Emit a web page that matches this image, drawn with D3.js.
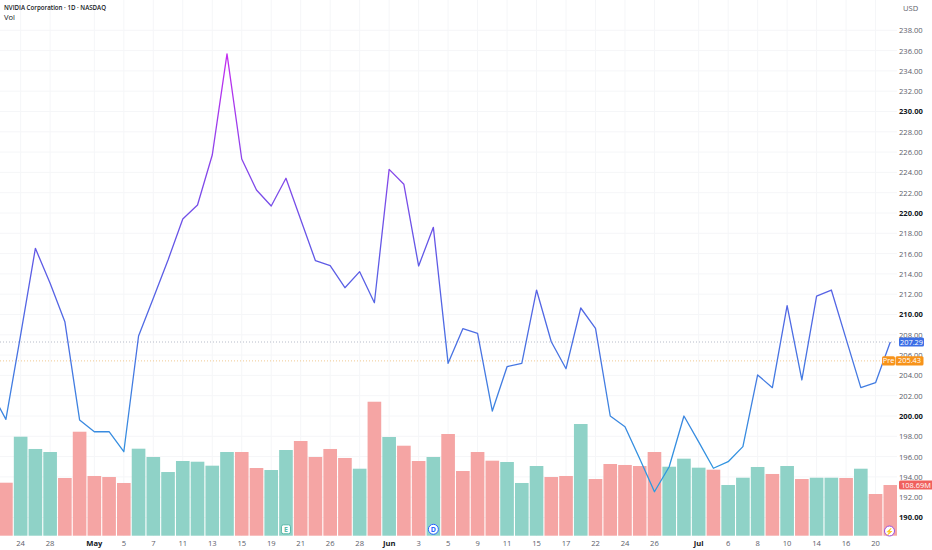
<!DOCTYPE html>
<html><head><meta charset="utf-8">
<script src="https://cdn.jsdelivr.net/npm/d3@7/dist/d3.min.js"></script>
<style>
html,body{margin:0;padding:0;background:#fff;}
svg{display:block;font-family:"Open Sans","Noto Sans",sans-serif;}
</style></head>
<body>
<svg id="chart" width="932" height="550"></svg>
<script>
// ---- data ----
const days = ["Apr 22","Apr 23","Apr 24","Apr 25","Apr 28","Apr 29","Apr 30","May 1","May 2","May 5","May 6","May 7","May 8","May 11","May 12","May 13","May 14","May 15","May 18","May 19","May 20","May 21","May 22","May 26","May 27","May 28","May 29","Jun 1","Jun 2","Jun 3","Jun 4","Jun 5","Jun 8","Jun 9","Jun 10","Jun 11","Jun 12","Jun 15","Jun 16","Jun 17","Jun 18","Jun 22","Jun 23","Jun 24","Jun 25","Jun 26","Jun 29","Jun 30","Jul 1","Jul 2","Jul 6","Jul 7","Jul 8","Jul 9","Jul 10","Jul 13","Jul 14","Jul 15","Jul 16","Jul 17","Jul 20","Jul 21"];
const closes = [202.35,199.67,208.0,216.52,213.07,209.29,199.61,198.45,198.45,196.48,207.88,211.6,215.37,219.41,220.79,225.71,235.67,225.32,222.27,220.69,223.42,219.36,215.30,214.81,212.64,214.22,211.16,224.30,222.83,214.78,218.59,205.19,208.60,208.15,200.49,204.86,205.19,212.41,207.32,204.66,210.64,208.64,200.0,198.95,195.79,192.54,195.0,200.0,197.45,194.85,195.5,196.98,204.04,202.79,210.87,203.55,211.82,212.41,207.6,202.79,203.28,207.29];
const volumes = [null,113.6,212.2,185.9,179.4,123.7,222.9,128.0,125.8,113.0,186.5,168.7,136.5,160.1,158.6,150.1,179.4,179.4,145.1,140.8,183.7,203.0,168.7,185.9,166.6,143.6,287.2,211.6,192.9,160.1,168.7,218.0,138.7,179.4,160.8,158.0,113.0,149.4,125.8,128.0,239.4,121.5,153.7,151.6,149.4,179.4,147.9,165.1,145.8,141.5,108.7,124.3,147.3,132.3,149.4,121.5,124.3,124.3,123.7,143.6,89.4,108.69];
const volDir = [null,"d","u","u","u","d","d","d","d","d","u","u","u","u","u","u","u","d","d","u","u","d","d","d","d","u","d","u","d","d","u","d","d","d","d","u","u","u","d","d","u","d","d","d","d","d","u","u","u","d","u","u","u","d","u","d","u","u","d","u","d","d"];
const tickDays = ["Apr 24","Apr 28","May 1","May 5","May 7","May 11","May 13","May 15","May 19","May 21","May 26","May 28","Jun 1","Jun 3","Jun 5","Jun 9","Jun 11","Jun 15","Jun 17","Jun 22","Jun 24","Jun 26","Jul 1","Jul 6","Jul 8","Jul 10","Jul 14","Jul 16","Jul 20"];
const priceTicks = d3.range(190, 239, 2);
const lastPrice = 207.29, prePrice = 205.43, lastVolLabel = "108.69M";
const markers = [{day:"May 20", type:"E"}, {day:"Jun 4", type:"D"}];
const title = "NVIDIA Corporation \u00b7 1D \u00b7 NASDAQ";

// ---- layout ----
const svg = d3.select("#chart");
const plotRight = 897;
const x = d3.scalePoint().domain(days).range([-8.84, 890.3]);
const step = x.step();
const y = d3.scaleLinear().domain([190, 238]).range([517.5, 30.3]);
const yv = d3.scaleLinear().domain([0, 300]).range([535.7, 395.75]);

const defs = svg.append("defs");
defs.append("clipPath").attr("id","plotclip").append("rect").attr("x",0).attr("y",0).attr("width",plotRight).attr("height",536);
const grad = defs.append("linearGradient").attr("id","lineGrad").attr("gradientUnits","userSpaceOnUse")
  .attr("x1",0).attr("x2",0).attr("y1",y(238)).attr("y2",y(190));
[[0.05,"#c42cf0"],[0.27,"#8a45ea"],[0.45,"#6257e6"],[0.64,"#4a6fe3"],[0.79,"#3c86e0"],[0.95,"#2a9ce0"]]
  .forEach(([o,c])=>grad.append("stop").attr("offset",o).attr("stop-color",c));

// grid
const grid = svg.append("g").attr("clip-path","url(#plotclip)");
grid.selectAll("line.h").data(priceTicks).join("line")
  .attr("x1",0).attr("x2",plotRight).attr("y1",d=>y(d)).attr("y2",d=>y(d))
  .attr("stroke","#f5f6f8").attr("stroke-width",1);
grid.selectAll("line.v").data(tickDays).join("line")
  .attr("x1",d=>x(d)).attr("x2",d=>x(d)).attr("y1",0).attr("y2",536)
  .attr("stroke","#f5f6f8").attr("stroke-width",1);

// volume bars
const plot = svg.append("g").attr("clip-path","url(#plotclip)");
const bw = step - 1.1;
plot.selectAll("rect.vol").data(days.map((d,i)=>({d, v:volumes[i], dir:volDir[i]})).filter(o=>o.v!=null))
  .join("rect").attr("class","vol")
  .attr("x",o=>x(o.d)-bw/2).attr("width",bw)
  .attr("y",o=>yv(o.v)).attr("height",o=>yv(0)-yv(o.v))
  .attr("fill",o=>o.dir==="u"?"#8fd2c7":"#f5a5a4");

// dotted lines for last / pre prices
plot.append("line").attr("x1",0).attr("x2",plotRight).attr("y1",y(lastPrice)).attr("y2",y(lastPrice))
  .attr("stroke","#b7bcc9").attr("stroke-dasharray","1,2").attr("stroke-width",1);
plot.append("line").attr("x1",0).attr("x2",plotRight).attr("y1",y(prePrice)).attr("y2",y(prePrice))
  .attr("stroke","#f0c890").attr("stroke-dasharray","1,2").attr("stroke-width",1);

// price line
const line = d3.line().x((d,i)=>x(days[i])).y(d=>y(d));
plot.append("path").datum(closes).attr("d",line)
  .attr("fill","none").attr("stroke","url(#lineGrad)").attr("stroke-width",1.3).attr("stroke-linejoin","round");

// markers
markers.forEach(m=>{
  const cx = x(m.day), cy = 529.3;
  if(m.type==="E"){
    svg.append("rect").attr("x",cx-4.5).attr("y",cy-4.5).attr("width",9).attr("height",9).attr("rx",2)
      .attr("fill","#fff").attr("stroke","#59b8a8").attr("stroke-width",1);
    svg.append("text").attr("x",cx).attr("y",cy+2.6).attr("text-anchor","middle").attr("font-size",7).attr("font-weight",700).attr("fill","#59b8a8").text("E");
  } else {
    svg.append("circle").attr("cx",cx).attr("cy",cy).attr("r",5).attr("fill","#fff").attr("stroke","#2962ff").attr("stroke-width",1);
    svg.append("text").attr("x",cx).attr("y",cy+2.6).attr("text-anchor","middle").attr("font-size",7).attr("font-weight",700).attr("fill","#2962ff").text("D");
  }
});
// bottom-right icon
svg.append("circle").attr("cx",889.5).attr("cy",531).attr("r",5).attr("fill","#fff").attr("stroke","#9b4ddb").attr("stroke-width",1);
svg.append("text").attr("x",889.5).attr("y",533.5).attr("text-anchor","middle").attr("font-size",7).attr("font-weight",700).attr("fill","#7b3fd0").text("\u26a1");

// y axis
const yAxis = svg.append("g").attr("transform",`translate(899,0)`)
  .call(d3.axisRight(y).tickValues(priceTicks).tickSize(0).tickPadding(0).tickFormat(d3.format(".2f")));
yAxis.select(".domain").remove();
yAxis.selectAll("text").attr("font-size",7.6).attr("font-family","'Open Sans','Noto Sans',sans-serif")
  .attr("fill",d=>d%10===0?"#131722":"#5d606b").attr("font-weight",d=>d%10===0?700:400);

svg.append("text").attr("x",903).attr("y",11).attr("font-size",7.6).attr("fill","#5d606b").text("USD");

// x axis labels
const xAxis = svg.append("g");
xAxis.selectAll("text").data(tickDays).join("text")
  .attr("x",d=>x(d)).attr("y",546).attr("text-anchor","middle").attr("font-size",7.6)
  .attr("font-weight",d=>d.endsWith(" 1")?700:400)
  .attr("fill",d=>d.endsWith(" 1")?"#131722":"#5d606b")
  .text(d=>{const [m,n]=d.split(" "); return n==="1"?m:n;});

// price labels
function tag(xp, yc, w, bg, txt){
  svg.append("rect").attr("x",xp).attr("y",yc-4.6).attr("width",w).attr("height",9.2).attr("rx",1.5).attr("fill",bg);
  svg.append("text").attr("x",xp+w/2).attr("y",yc+2.6).attr("text-anchor","middle").attr("font-size",7.4).attr("fill","#fff").text(txt);
}
tag(899, y(lastPrice), 25, "#3b6ee6", lastPrice.toFixed(2));
tag(882, y(prePrice), 13, "#f7931a", "Pre");
tag(895.5, y(prePrice), 28, "#f7931a", prePrice.toFixed(2));
tag(899, yv(108.69), 34, "#f0605d", lastVolLabel);

// header
svg.append("text").attr("x",4).attr("y",10).attr("font-size",7.6).attr("font-weight",600).attr("fill","#131722")
  .attr("textLength",102).attr("lengthAdjust","spacingAndGlyphs").text(title);
svg.append("text").attr("x",4).attr("y",20).attr("font-size",7.6).attr("fill","#131722").text("Vol");
</script>
</body></html>
